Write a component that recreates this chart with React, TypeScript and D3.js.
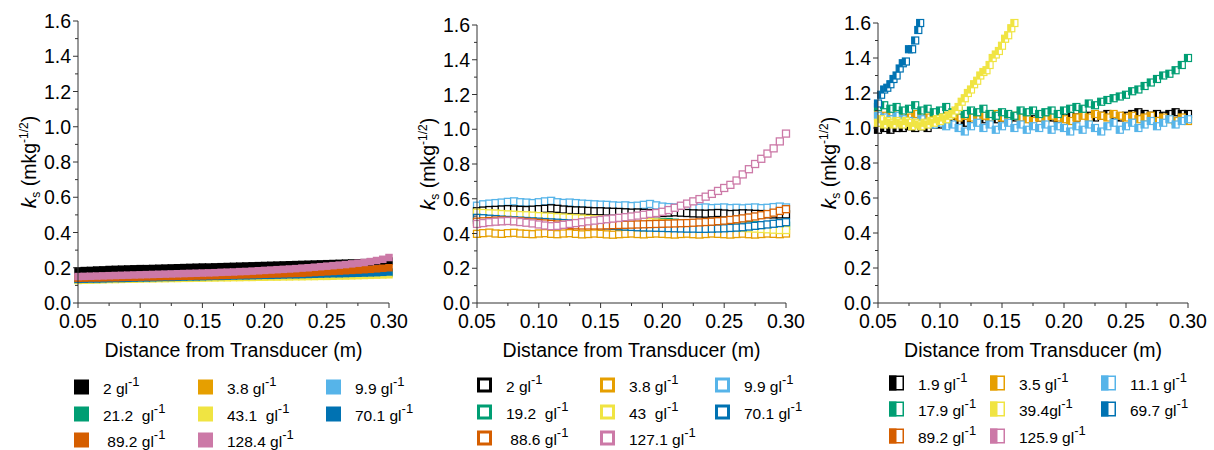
import React from "react";
import * as d3 from "d3";

// ---------- shared x positions (m) ----------
const X = [
  0.050, 0.055, 0.060, 0.065, 0.070, 0.075, 0.080, 0.085, 0.090, 0.095,
  0.100, 0.105, 0.110, 0.115, 0.120, 0.125, 0.130, 0.135, 0.140, 0.145,
  0.150, 0.155, 0.160, 0.165, 0.170, 0.175, 0.180, 0.185, 0.190, 0.195,
  0.200, 0.205, 0.210, 0.215, 0.220, 0.225, 0.230, 0.235, 0.240, 0.245,
  0.250, 0.255, 0.260, 0.265, 0.270, 0.275, 0.280, 0.285, 0.290, 0.295,
  0.300,
];

const COLORS = ["#000000", "#E69F00", "#56B4E9", "#009E73", "#F0E442", "#0072B2", "#D55E00", "#CC79A7"];

const X_TICKS = [0.05, 0.1, 0.15, 0.2, 0.25, 0.3];
const Y_TICKS = [0, 0.2, 0.4, 0.6, 0.8, 1.0, 1.2, 1.4, 1.6];

// ---------- panel A ----------
const A_LABELS = ["2 gl", "3.8 gl", "9.9 gl", "21.2  gl", "43.1  gl", "70.1 gl", " 89.2 gl", "128.4 gl"];
const A_2 = [0.182,0.184,0.185,0.187,0.188,0.190,0.191,0.192,0.193,0.194,0.195,0.195,0.196,0.197,0.198,0.199,0.200,0.201,0.202,0.203,0.204,0.204,0.205,0.206,0.207,0.208,0.209,0.210,0.211,0.212,0.213,0.214,0.215,0.216,0.217,0.218,0.219,0.220,0.221,0.222,0.223,0.224,0.225,0.226,0.227,0.228,0.229,0.230,0.232,0.234,0.238];
const A_3_8 = [0.135,0.136,0.136,0.137,0.138,0.138,0.139,0.140,0.140,0.141,0.141,0.142,0.143,0.143,0.144,0.144,0.145,0.146,0.146,0.147,0.147,0.148,0.149,0.149,0.150,0.150,0.151,0.152,0.152,0.153,0.153,0.154,0.155,0.155,0.156,0.157,0.157,0.158,0.159,0.159,0.160,0.161,0.161,0.162,0.163,0.163,0.164,0.165,0.166,0.167,0.168];
const A_9_9 = [0.130,0.131,0.132,0.133,0.134,0.135,0.136,0.136,0.137,0.138,0.139,0.140,0.140,0.141,0.142,0.142,0.143,0.144,0.144,0.145,0.146,0.146,0.147,0.148,0.148,0.149,0.150,0.150,0.151,0.152,0.152,0.153,0.154,0.154,0.155,0.156,0.157,0.157,0.158,0.159,0.160,0.161,0.162,0.162,0.163,0.164,0.165,0.166,0.167,0.168,0.170];
const A_21_2 = [0.138,0.139,0.140,0.140,0.141,0.142,0.142,0.143,0.144,0.144,0.145,0.146,0.146,0.147,0.148,0.148,0.149,0.150,0.150,0.151,0.152,0.152,0.153,0.154,0.154,0.155,0.156,0.156,0.157,0.158,0.158,0.159,0.160,0.160,0.161,0.162,0.162,0.163,0.164,0.164,0.165,0.166,0.166,0.167,0.168,0.168,0.169,0.170,0.170,0.171,0.172];
const A_43_1 = [0.128,0.129,0.130,0.131,0.132,0.133,0.133,0.134,0.135,0.135,0.136,0.137,0.137,0.138,0.138,0.139,0.139,0.140,0.140,0.141,0.141,0.142,0.142,0.143,0.143,0.144,0.144,0.145,0.145,0.146,0.146,0.147,0.147,0.148,0.148,0.149,0.149,0.150,0.150,0.151,0.151,0.152,0.153,0.153,0.154,0.155,0.156,0.157,0.158,0.159,0.160];
const A_70_1 = [0.134,0.135,0.136,0.136,0.137,0.138,0.139,0.139,0.140,0.141,0.142,0.142,0.143,0.144,0.145,0.145,0.146,0.147,0.148,0.148,0.149,0.150,0.151,0.151,0.152,0.153,0.154,0.154,0.155,0.156,0.157,0.157,0.158,0.159,0.160,0.160,0.161,0.162,0.163,0.164,0.165,0.166,0.166,0.167,0.168,0.169,0.170,0.171,0.172,0.174,0.176];
const A_89_2 = [0.140,0.141,0.142,0.142,0.143,0.144,0.144,0.145,0.146,0.146,0.147,0.148,0.148,0.149,0.150,0.150,0.151,0.152,0.152,0.153,0.154,0.155,0.155,0.156,0.157,0.158,0.159,0.160,0.161,0.162,0.163,0.164,0.165,0.166,0.167,0.168,0.169,0.171,0.173,0.175,0.177,0.179,0.181,0.183,0.185,0.187,0.189,0.191,0.194,0.197,0.200];
const A_128_4 = [0.150,0.151,0.152,0.153,0.154,0.155,0.156,0.157,0.158,0.159,0.160,0.161,0.162,0.163,0.164,0.165,0.166,0.167,0.168,0.169,0.170,0.171,0.172,0.174,0.175,0.176,0.178,0.179,0.181,0.183,0.185,0.187,0.189,0.191,0.193,0.195,0.198,0.200,0.203,0.206,0.209,0.212,0.215,0.218,0.222,0.226,0.230,0.235,0.241,0.248,0.258];

// ---------- panel B ----------
const B_LABELS = ["2 gl", "3.8 gl", "9.9 gl", "19.2  gl", "43  gl", "70.1 gl", " 88.6 gl", "127.1 gl"];
const B_2 = [0.528,0.532,0.535,0.536,0.538,0.540,0.538,0.536,0.535,0.537,0.540,0.542,0.545,0.542,0.538,0.535,0.533,0.532,0.530,0.528,0.528,0.526,0.525,0.524,0.522,0.520,0.521,0.519,0.518,0.517,0.518,0.520,0.522,0.520,0.518,0.516,0.515,0.514,0.516,0.518,0.515,0.512,0.514,0.516,0.515,0.513,0.512,0.511,0.510,0.510,0.510];
const B_3_8 = [0.398,0.402,0.405,0.400,0.398,0.402,0.404,0.400,0.398,0.396,0.400,0.402,0.398,0.396,0.400,0.402,0.398,0.395,0.397,0.400,0.398,0.395,0.393,0.396,0.398,0.400,0.397,0.395,0.398,0.400,0.398,0.396,0.394,0.397,0.399,0.396,0.394,0.397,0.400,0.398,0.396,0.394,0.397,0.399,0.396,0.394,0.397,0.400,0.398,0.396,0.400];
const B_9_9 = [0.560,0.568,0.572,0.575,0.578,0.582,0.585,0.580,0.578,0.575,0.580,0.585,0.588,0.580,0.576,0.578,0.575,0.572,0.570,0.568,0.566,0.565,0.562,0.560,0.562,0.558,0.560,0.565,0.570,0.562,0.555,0.552,0.550,0.548,0.552,0.550,0.548,0.550,0.546,0.548,0.550,0.546,0.548,0.545,0.548,0.550,0.546,0.548,0.552,0.555,0.550];
const B_19_2 = [0.480,0.479,0.478,0.477,0.476,0.475,0.474,0.473,0.472,0.471,0.470,0.469,0.468,0.468,0.467,0.466,0.466,0.465,0.465,0.464,0.464,0.463,0.463,0.462,0.462,0.462,0.461,0.461,0.460,0.462,0.465,0.466,0.462,0.458,0.456,0.455,0.454,0.453,0.452,0.451,0.450,0.449,0.449,0.448,0.448,0.447,0.447,0.446,0.446,0.445,0.445];
const B_43 = [0.520,0.518,0.516,0.515,0.512,0.510,0.508,0.506,0.505,0.503,0.500,0.498,0.496,0.494,0.492,0.490,0.488,0.486,0.484,0.482,0.480,0.478,0.476,0.475,0.473,0.471,0.469,0.467,0.465,0.463,0.461,0.459,0.457,0.455,0.453,0.451,0.449,0.446,0.443,0.440,0.438,0.436,0.434,0.432,0.430,0.428,0.426,0.424,0.422,0.420,0.420];
const B_70_1 = [0.490,0.488,0.485,0.483,0.480,0.478,0.476,0.474,0.472,0.470,0.468,0.466,0.464,0.462,0.460,0.458,0.456,0.454,0.452,0.450,0.448,0.446,0.444,0.442,0.440,0.438,0.436,0.435,0.434,0.433,0.432,0.431,0.430,0.429,0.428,0.428,0.427,0.427,0.428,0.429,0.430,0.432,0.434,0.436,0.440,0.444,0.448,0.452,0.456,0.460,0.465];
const B_88_6 = [0.468,0.470,0.472,0.474,0.475,0.474,0.472,0.470,0.467,0.464,0.461,0.458,0.455,0.452,0.450,0.448,0.447,0.446,0.446,0.446,0.446,0.447,0.448,0.449,0.450,0.451,0.452,0.453,0.454,0.455,0.456,0.457,0.458,0.459,0.460,0.462,0.464,0.466,0.468,0.471,0.474,0.478,0.482,0.487,0.492,0.498,0.505,0.512,0.520,0.530,0.540];
const B_127_1 = [0.455,0.460,0.465,0.468,0.470,0.472,0.470,0.466,0.462,0.458,0.452,0.446,0.442,0.444,0.450,0.455,0.460,0.465,0.470,0.474,0.478,0.482,0.486,0.490,0.494,0.498,0.503,0.508,0.513,0.518,0.525,0.535,0.548,0.560,0.572,0.585,0.598,0.612,0.628,0.645,0.662,0.680,0.705,0.740,0.770,0.800,0.830,0.860,0.890,0.930,0.975];

// ---------- panel C ----------
const C_LABELS = ["1.9 gl", "3.5 gl", "11.1 gl", "17.9 gl", "39.4gl", "69.7 gl", "89.2 gl", "125.9 gl"];
const C_1_9 = [0.99,1.00,0.99,1.00,1.00,1.01,1.00,1.01,1.00,1.02,1.02,1.03,1.03,1.04,1.03,1.05,1.04,1.05,1.06,1.05,1.06,1.05,1.06,1.07,1.06,1.05,1.06,1.07,1.06,1.05,1.06,1.07,1.06,1.08,1.07,1.06,1.07,1.08,1.07,1.06,1.07,1.08,1.09,1.08,1.07,1.08,1.07,1.08,1.09,1.08,1.08];
const C_3_5 = [1.08,1.07,1.09,1.08,1.07,1.06,1.08,1.07,1.06,1.07,1.06,1.07,1.08,1.06,1.07,1.06,1.05,1.07,1.06,1.08,1.06,1.05,1.07,1.06,1.05,1.04,1.06,1.05,1.07,1.06,1.05,1.04,1.06,1.07,1.06,1.08,1.07,1.06,1.08,1.07,1.06,1.07,1.05,1.06,1.07,1.04,1.06,1.05,1.04,1.06,1.04];
const C_11_1 = [1.07,1.06,1.05,1.07,1.05,1.04,1.03,1.05,1.03,1.02,1.03,1.01,1.02,1.00,0.98,1.01,1.03,1.00,1.02,0.99,1.01,1.03,1.00,1.02,0.99,1.01,1.00,1.02,0.99,1.01,1.00,0.98,1.01,0.99,1.02,1.00,0.98,1.01,1.03,0.99,1.01,1.03,1.00,1.02,1.04,1.01,1.03,1.05,1.02,1.04,1.05];
const C_17_9 = [1.12,1.13,1.11,1.12,1.10,1.11,1.13,1.10,1.11,1.09,1.10,1.12,1.09,1.10,1.08,1.10,1.09,1.11,1.08,1.07,1.09,1.08,1.07,1.10,1.09,1.10,1.08,1.09,1.10,1.08,1.10,1.11,1.12,1.11,1.14,1.13,1.15,1.16,1.17,1.18,1.19,1.21,1.22,1.24,1.26,1.28,1.30,1.31,1.33,1.36,1.40];
const C_39_4_X = [0.050,0.0525,0.055,0.0575,0.060,0.0625,0.065,0.0675,0.070,0.0725,0.075,0.0775,0.080,0.0825,0.085,0.0875,0.090,0.0925,0.095,0.0975,0.100,0.1025,0.105,0.1075,0.110,0.1125,0.115,0.1175,0.120,0.1225,0.125,0.1275,0.130,0.1325,0.135,0.1375,0.140,0.1425,0.145,0.1475,0.150,0.1525,0.155,0.1575,0.160];
const C_39_4 = [1.03,1.05,1.02,1.04,1.03,1.02,1.04,1.03,1.02,1.04,1.03,1.01,1.03,1.02,1.01,1.03,1.02,1.04,1.03,1.05,1.04,1.06,1.05,1.07,1.08,1.10,1.12,1.15,1.17,1.20,1.22,1.25,1.27,1.30,1.32,1.33,1.36,1.40,1.42,1.44,1.47,1.51,1.53,1.57,1.60];
const C_69_7_X = [0.050,0.0525,0.055,0.0575,0.060,0.0625,0.065,0.0675,0.070,0.0725,0.075,0.0775,0.080,0.0825,0.084];
const C_69_7 = [1.14,1.19,1.22,1.23,1.25,1.28,1.30,1.34,1.37,1.38,1.45,1.45,1.50,1.56,1.60];
const C_89_2: number[] = [];
const C_125_9: number[] = [];

const FONT = "'Liberation Sans', Arial, Helvetica, sans-serif";

type Series = { xs: number[]; ys: number[]; color: string };
type PanelCfg = {
  x0: number; x1: number; yTop: number; yBottom: number;
  marker: "filled" | "open" | "half";
  series: Series[];
  order: number[];
  labels: string[];
  legendSqX: number[];
  legendRows: number[];
};

const mk = (xs: number[], ys: number[], i: number): Series => ({ xs, ys, color: COLORS[i] });

const PANELS: PanelCfg[] = [
  {
    x0: 78, x1: 389, yTop: 21, yBottom: 303, marker: "filled",
    series: [mk(X, A_2, 0), mk(X, A_3_8, 1), mk(X, A_9_9, 2), mk(X, A_21_2, 3), mk(X, A_43_1, 4), mk(X, A_70_1, 5), mk(X, A_89_2, 6), mk(X, A_128_4, 7)],
    order: [0, 1, 2, 3, 4, 5, 6, 7],
    labels: A_LABELS, legendSqX: [74, 198, 326], legendRows: [387, 414, 440],
  },
  {
    x0: 477, x1: 786, yTop: 25, yBottom: 303, marker: "open",
    series: [mk(X, B_2, 0), mk(X, B_3_8, 1), mk(X, B_9_9, 2), mk(X, B_19_2, 3), mk(X, B_43, 4), mk(X, B_70_1, 5), mk(X, B_88_6, 6), mk(X, B_127_1, 7)],
    order: [1, 2, 3, 0, 4, 5, 6, 7],
    labels: B_LABELS, legendSqX: [477, 600, 715], legendRows: [385, 412, 438],
  },
  {
    x0: 878, x1: 1188, yTop: 23, yBottom: 303, marker: "half",
    series: [mk(X, C_1_9, 0), mk(X, C_3_5, 1), mk(X, C_11_1, 2), mk(X, C_17_9, 3), mk(C_39_4_X, C_39_4, 4), mk(C_69_7_X, C_69_7, 5), mk(X, C_89_2, 6), mk(X, C_125_9, 7)],
    order: [0, 1, 2, 3, 4, 5, 6, 7],
    labels: C_LABELS, legendSqX: [889, 990, 1101], legendRows: [383, 409, 436],
  },
];

function Marker({ type, cx, cy, s, color }: { type: string; cx: number; cy: number; s: number; color: string }) {
  if (type === "filled") {
    return <rect x={cx - s / 2} y={cy - s / 2} width={s} height={s} fill={color} />;
  }
  if (type === "open") {
    return <rect x={cx - s / 2} y={cy - s / 2} width={s} height={s} fill="#fff" stroke={color} strokeWidth={1.3} />;
  }
  return (
    <g>
      <rect x={cx - s / 2} y={cy - s / 2} width={s} height={s} fill="#fff" stroke={color} strokeWidth={1.2} />
      <rect x={cx - s / 2} y={cy - s / 2} width={s / 2} height={s} fill={color} />
    </g>
  );
}

function LegendSym({ type, x, cy, color }: { type: string; x: number; cy: number; color: string }) {
  const s = 15;
  const y = cy - s / 2;
  if (type === "filled") return <rect x={x} y={y} width={s} height={s} fill={color} />;
  if (type === "open")
    return <rect x={x + 1.5} y={y + 1.5} width={s - 3} height={s - 3} fill="#fff" stroke={color} strokeWidth={3} />;
  return (
    <g>
      <rect x={x + 0.75} y={y + 0.75} width={s - 1.5} height={s - 1.5} fill="#fff" stroke={color} strokeWidth={1.5} />
      <rect x={x} y={y} width={s / 2} height={s} fill={color} />
    </g>
  );
}

function Panel({ cfg }: { cfg: PanelCfg }) {
  const x = d3.scaleLinear().domain([0.05, 0.3]).range([cfg.x0, cfg.x1]);
  const y = d3.scaleLinear().domain([0, 1.6]).range([cfg.yBottom, cfg.yTop]);
  const xMinor = d3.range(0, 11).map((i) => 0.05 + i * 0.025);
  const yMinor = d3.range(0, 17).map((i) => i * 0.1);
  const axisColor = "#333";
  const s = cfg.marker === "filled" ? 7.5 : 7;
  return (
    <g>
      {cfg.order.map((si) => {
        const ser = cfg.series[si];
        return (
          <g key={si}>
            {ser.ys.map((v, i) => (
              <Marker key={i} type={cfg.marker} cx={x(ser.xs[i])} cy={y(v)} s={s} color={ser.color} />
            ))}
          </g>
        );
      })}
      <line x1={cfg.x0} x2={cfg.x1} y1={cfg.yBottom} y2={cfg.yBottom} stroke={axisColor} strokeWidth={1} />
      <line x1={cfg.x0} x2={cfg.x0} y1={cfg.yBottom} y2={cfg.yTop} stroke={axisColor} strokeWidth={1} />
      {xMinor.map((t, i) => (
        <line key={"xm" + i} x1={x(t)} x2={x(t)} y1={cfg.yBottom} y2={cfg.yBottom + (i % 2 === 0 ? 5 : 3)} stroke={axisColor} strokeWidth={1} />
      ))}
      {yMinor.map((t, i) => (
        <line key={"ym" + i} x1={cfg.x0} x2={cfg.x0 - (i % 2 === 0 ? 5 : 3)} y1={y(t)} y2={y(t)} stroke={axisColor} strokeWidth={1} />
      ))}
      {X_TICKS.map((t) => (
        <text key={"xt" + t} x={x(t)} y={cfg.yBottom + 25} textAnchor="middle" fontSize={19.5} fontFamily={FONT} fill="#000">
          {d3.format(".2f")(t)}
        </text>
      ))}
      {Y_TICKS.map((t) => (
        <text key={"yt" + t} x={cfg.x0 - 7} y={y(t) + 7} textAnchor="end" fontSize={19.5} fontFamily={FONT} fill="#000">
          {d3.format(".1f")(t)}
        </text>
      ))}
      <text x={(cfg.x0 + cfg.x1) / 2} y={357} textAnchor="middle" fontSize={19.5} fontFamily={FONT} fill="#000">
        Distance from Transducer (m)
      </text>
      <text transform={`translate(${cfg.x0 - 42},${(cfg.yTop + cfg.yBottom) / 2}) rotate(-90)`} textAnchor="middle" fontSize={19.5} fontFamily={FONT} fill="#000">
        <tspan fontStyle="italic" fontSize={21}>k</tspan>
        <tspan fontSize={12} dy={4}>s</tspan>
        <tspan dy={-4}> (mkg</tspan>
        <tspan fontSize={12} dy={-8}>-1/2</tspan>
        <tspan dy={8}>)</tspan>
      </text>
      {cfg.labels.map((lab, i) => {
        const col = i % 3;
        const row = Math.floor(i / 3);
        const sx = cfg.legendSqX[col];
        const cy = cfg.legendRows[row];
        return (
          <g key={"lg" + i}>
            <LegendSym type={cfg.marker} x={sx} cy={cy} color={COLORS[i]} />
            <text x={sx + 29} y={cy + 6.5} fontSize={15.5} fontFamily={FONT} fill="#000" style={{ whiteSpace: "pre" }}>
              {lab}
              <tspan fontSize={13} dy={-7.5}>-1</tspan>
            </text>
          </g>
        );
      })}
    </g>
  );
}

export default function App() {
  return (
    <svg
      width={1214}
      height={450}
      viewBox="0 0 1214 450"
      style={{ position: "absolute", left: 0, top: 0, background: "#fff" }}
    >
      <rect x={0} y={0} width={1214} height={450} fill="#fff" />
      {PANELS.map((p, i) => (
        <Panel key={i} cfg={p} />
      ))}
    </svg>
  );
}
